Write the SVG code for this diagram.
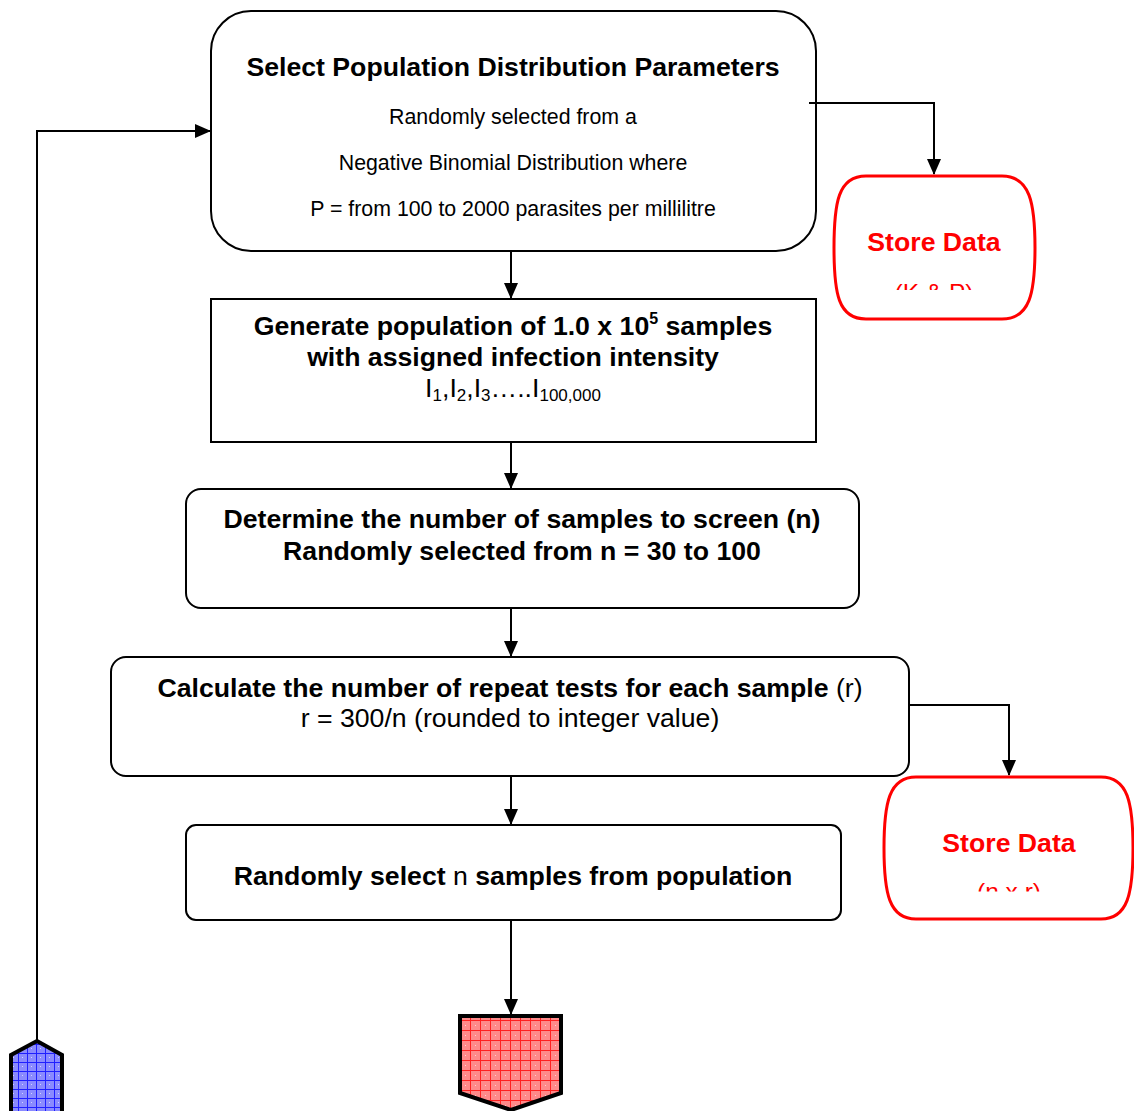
<svg xmlns="http://www.w3.org/2000/svg" width="1134" height="1111" viewBox="0 0 1134 1111">
<style>
.box{fill:#fff;stroke:#000;stroke-width:2}
.store{fill:#fff;stroke:#ff0000;stroke-width:3}
.b{font-family:"Liberation Sans",Arial,sans-serif;font-weight:bold;font-size:26.67px;fill:#000;text-anchor:middle}
.r{font-family:"Liberation Sans",Arial,sans-serif;font-size:21.33px;fill:#000;text-anchor:middle}
.r2{font-family:"Liberation Sans",Arial,sans-serif;font-size:26.67px;fill:#000;text-anchor:middle}
.st{font-family:"Liberation Sans",Arial,sans-serif;font-weight:bold;font-size:26.67px;fill:#ff0000;text-anchor:middle}
.stsub{font-family:"Liberation Sans",Arial,sans-serif;font-size:24.5px;fill:#ff0000;text-anchor:middle}
.sub{font-size:17px}
.conn{fill:none;stroke:#000;stroke-width:2}
</style>
<defs>
<marker id="arr" markerUnits="userSpaceOnUse" markerWidth="16" markerHeight="16" viewBox="0 0 16 16" refX="15" refY="8" orient="auto">
<path d="M0,1 L16,8 L0,15 Z" fill="#000"/>
</marker>
<pattern id="redgrid" width="10" height="10" patternUnits="userSpaceOnUse">
<rect width="10" height="10" fill="#ff8a8a"/>
<path d="M0,0.5 H10 M0.5,0 V10" stroke="#ff2020" stroke-width="1"/>
<rect x="5" y="5" width="1" height="1" fill="#ffd0d0"/>
</pattern>
<pattern id="bluegrid" width="9" height="9" patternUnits="userSpaceOnUse">
<rect width="9" height="9" fill="#8a8aff"/>
<path d="M0,0.5 H9 M0.5,0 V9" stroke="#2020ff" stroke-width="1"/>
<rect x="4" y="4" width="1" height="1" fill="#d0d0ff"/>
</pattern>
<clipPath id="clip1"><rect x="830" y="170" width="210" height="120"/></clipPath>
<clipPath id="clip2"><rect x="880" y="770" width="254" height="121.5"/></clipPath>
</defs>

<g id="connectors">
<line class="conn" x1="511" y1="251" x2="511" y2="298" marker-end="url(#arr)"/>
<line class="conn" x1="511" y1="442" x2="511" y2="488" marker-end="url(#arr)"/>
<line class="conn" x1="511" y1="608" x2="511" y2="656" marker-end="url(#arr)"/>
<line class="conn" x1="511" y1="776" x2="511" y2="824" marker-end="url(#arr)"/>
<line class="conn" x1="511" y1="920" x2="511" y2="1014" marker-end="url(#arr)"/>
<polyline class="conn" points="809,103 934,103 934,174" marker-end="url(#arr)"/>
<polyline class="conn" points="909,705 1009,705 1009,775" marker-end="url(#arr)"/>
<polyline class="conn" points="37,1040 37,131 210,131" marker-end="url(#arr)"/>
</g>

<g id="node-select-params">
<rect class="box" x="211" y="11" width="605" height="240" rx="40" ry="40"/>
<text class="b" x="513" y="76">Select Population Distribution Parameters</text>
<text class="r" x="513" y="124">Randomly selected from a</text>
<text class="r" x="513" y="170">Negative Binomial Distribution where</text>
<text class="r" x="513" y="216">P = from 100 to 2000 parasites per millilitre</text>
</g>
<line class="conn" x1="809" y1="103" x2="816" y2="103"/>

<g id="node-generate">
<rect class="box" x="211" y="299" width="605" height="143"/>
<text class="b" x="513" y="335">Generate population of 1.0 x 10<tspan style="font-size:16px" dy="-11">5</tspan><tspan dy="11"> samples</tspan></text>
<text class="b" x="513" y="366">with assigned infection intensity</text>
<text class="r2" x="513" y="397">I<tspan class="sub" dy="4">1</tspan><tspan dy="-4">,I</tspan><tspan class="sub" dy="4">2</tspan><tspan dy="-4">,I</tspan><tspan class="sub" dy="4">3</tspan><tspan dy="-4">…..I</tspan><tspan class="sub" dy="4">100,000</tspan></text>
</g>

<g id="node-determine">
<rect class="box" x="186" y="489" width="673" height="119" rx="15" ry="15"/>
<text class="b" x="522" y="528">Determine the number of samples to screen (n)</text>
<text class="b" x="522" y="560">Randomly selected from n = 30 to 100</text>
</g>

<g id="node-calculate">
<rect class="box" x="111" y="657" width="798" height="119" rx="15" ry="15"/>
<text class="b" x="510" y="697">Calculate the number of repeat tests for each sample <tspan font-weight="normal">(r)</tspan></text>
<text class="r2" x="510" y="727">r = 300/n (rounded to integer value)</text>
</g>

<g id="node-select-samples">
<rect class="box" x="186" y="825" width="655" height="95" rx="10" ry="10"/>
<text class="b" x="513" y="885">Randomly select <tspan font-weight="normal">n</tspan> samples from population</text>
</g>

<g id="node-store-kp">
<path class="store" d="M866,176 H1002 C1030,176 1035,203 1035,248 C1035,293 1030,319 1002,319 H866 C838,319 834,293 834,248 C834,203 838,176 866,176 Z"/>
<text class="st" x="934" y="251">Store Data</text>
<text class="stsub" x="934" y="301" clip-path="url(#clip1)">(K &amp; P)</text>
</g>

<g id="node-store-nr">
<path class="store" d="M916,777 H1101 C1128,777 1133,803 1133,848 C1133,893 1128,919 1101,919 H916 C889,919 884,893 884,848 C884,803 889,777 916,777 Z"/>
<text class="st" x="1009" y="852">Store Data</text>
<text class="stsub" x="1009" y="900" clip-path="url(#clip2)">(n x r)</text>
</g>

<g id="node-offpage-red">
<path d="M460,1016 H561 V1093 L511,1110 L460,1093 Z" fill="url(#redgrid)" stroke="#000" stroke-width="4" stroke-linejoin="miter"/>
</g>

<g id="node-offpage-blue">
<path d="M11,1120 V1055 L37,1041 L62,1055 V1120" fill="url(#bluegrid)" stroke="#000" stroke-width="4"/>
</g>
</svg>
